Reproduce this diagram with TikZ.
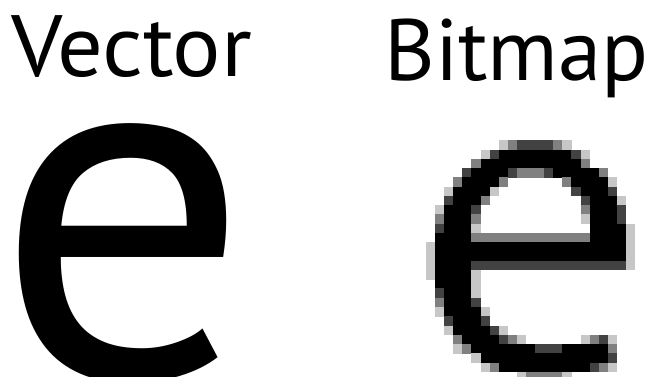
\documentclass[tikz,border=0pt]{standalone}
\usepackage{fontspec}
\setmainfont{PT Sans}
\tikzset{
  label/.style={anchor=base west, inner sep=0pt, font=\fontsize{87}{90}\selectfont},
  bigletter/.style={anchor=base west, inner sep=0pt, font=\fontsize{496}{500}\selectfont}
}
\newcount\pixcol
\def\pixrow#1#2{\def\currow{#1}\pixcol=0 \pixloop#2\relax}
\def\pixloop#1{%
  \ifx#1\relax\else
    \ifnum#1>0
      \edef\pct{\ifcase#1 0\or 22\or 50\or 74\or 100\fi}%
      \fill[black!\pct] ({426+9.09*\the\pixcol},{140.3+9.26*\currow}) rectangle ++(9.4,9.6);
    \fi
    \advance\pixcol by 1
    \expandafter\pixloop
  \fi}
\begin{document}
\begin{tikzpicture}[x=1pt,y=-1pt]
\useasboundingbox (0,0) rectangle (650,376);
\clip (0,0) rectangle (650,376);
\node[label] (vlabel) at (11,76) {\scalebox{1.04}[1]{Vector}};
\node[label] (blabel) at (384,80) {Bitmap};
\node[bigletter] (vece) at (-6,377) {\scalebox{1.02}[1]{e}};
% bitmap e: pixel grid, levels 0 white .. 4 black
\pixrow{0}{00000000123333210000000}
\pixrow{1}{00000013444444443100000}
\pixrow{2}{00000244444444444200000}
\pixrow{3}{00003444432223444442000}
\pixrow{4}{00024444200000024444100}
\pixrow{5}{00144441000000003444300}
\pixrow{6}{00344420000000000344410}
\pixrow{7}{01444300000000000244430}
\pixrow{8}{02444200000000000144430}
\pixrow{9}{03444100000000000044441}
\pixrow{10}{04444222222222222244441}
\pixrow{11}{14444444444444444444441}
\pixrow{12}{14444444444444444444441}
\pixrow{13}{14444333333333333333331}
\pixrow{14}{14444100000000000000000}
\pixrow{15}{04444100000000000000000}
\pixrow{16}{03444100000000000000000}
\pixrow{17}{02444300000000000000000}
\pixrow{18}{01444410000000000000000}
\pixrow{19}{00344430000000000000000}
\pixrow{20}{00144443100000000000000}
\pixrow{21}{00024444321000000123100}
\pixrow{22}{00012444444433344444200}
\pixrow{23}{00000144444444444444300}
\pixrow{24}{00000012444444444432100}
\pixrow{25}{00000000001222210000000}
\end{tikzpicture}
\end{document}
